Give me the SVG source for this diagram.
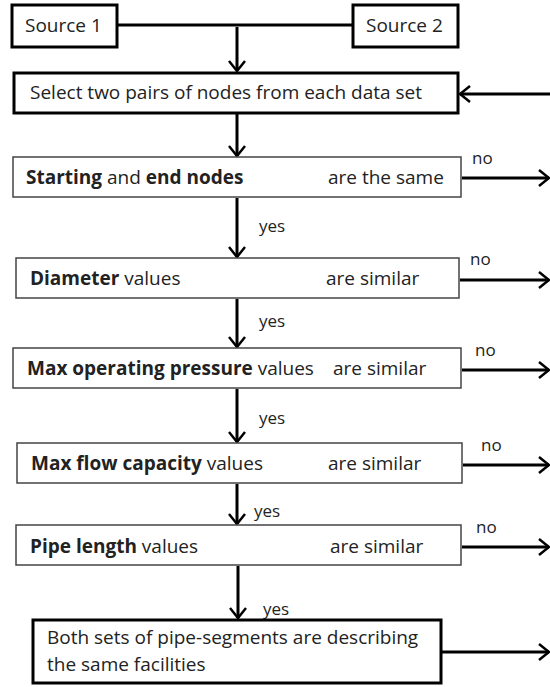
<svg xmlns="http://www.w3.org/2000/svg" width="550" height="687" viewBox="0 0 550 687">
<style>
text{font-family:"Open Sans","Noto Sans","Liberation Sans",sans-serif;font-size:19px;fill:#222}
.b{font-weight:bold}
.thick{fill:#fff;stroke:#000;stroke-width:3}
.thin{fill:#fff;stroke:#444;stroke-width:1.5}
.c{stroke:#000;stroke-width:3;fill:none}
.lbl{font-size:17px}
</style>
<defs>
<marker id="ah" viewBox="0 0 12 18" refX="11" refY="9" markerWidth="12" markerHeight="18" markerUnits="userSpaceOnUse" orient="auto">
<path d="M1,1 L11,9 L1,17" fill="none" stroke="#000" stroke-width="2.5"/>
</marker>
</defs>
<g id="connectors">
<line class="c" x1="117" y1="25" x2="353" y2="25"/>
<line class="c" x1="237" y1="27" x2="237" y2="71" marker-end="url(#ah)"/>
<line class="c" x1="550" y1="94" x2="460" y2="94" marker-end="url(#ah)"/>
<line class="c" x1="237" y1="114" x2="237" y2="156" marker-end="url(#ah)"/>
<line class="c" x1="462" y1="178" x2="549" y2="178" marker-end="url(#ah)"/>
<line class="c" x1="237" y1="198" x2="237" y2="257" marker-end="url(#ah)"/>
<line class="c" x1="460" y1="280" x2="549" y2="280" marker-end="url(#ah)"/>
<line class="c" x1="237" y1="299" x2="237" y2="347" marker-end="url(#ah)"/>
<line class="c" x1="462" y1="370" x2="549" y2="370" marker-end="url(#ah)"/>
<line class="c" x1="237" y1="389" x2="237" y2="442" marker-end="url(#ah)"/>
<line class="c" x1="463" y1="465" x2="549" y2="465" marker-end="url(#ah)"/>
<line class="c" x1="237" y1="484" x2="237" y2="524" marker-end="url(#ah)"/>
<line class="c" x1="462" y1="547" x2="549" y2="547" marker-end="url(#ah)"/>
<line class="c" x1="238" y1="566" x2="238" y2="618" marker-end="url(#ah)"/>
<line class="c" x1="442" y1="652" x2="549" y2="652" marker-end="url(#ah)"/>
<text class="lbl" x="472" y="164">no</text>
<text class="lbl" x="470" y="265">no</text>
<text class="lbl" x="475" y="356">no</text>
<text class="lbl" x="481" y="451">no</text>
<text class="lbl" x="476" y="533">no</text>
<text class="lbl" x="259" y="232">yes</text>
<text class="lbl" x="259" y="327">yes</text>
<text class="lbl" x="259" y="424">yes</text>
<text class="lbl" x="254" y="517">yes</text>
<text class="lbl" x="263" y="615">yes</text>
</g>
<g id="source1"><rect class="thick" x="12" y="5" width="105" height="42"/><text x="25" y="32">Source 1</text></g>
<g id="source2"><rect class="thick" x="353" y="5" width="105" height="42"/><text x="366" y="32">Source 2</text></g>
<g id="select"><rect class="thick" x="14" y="73" width="444" height="40"/><text x="30" y="99">Select two pairs of nodes from each data set</text></g>
<g id="nodes"><rect class="thin" x="13" y="157" width="448" height="40"/><text x="26" y="184"><tspan class="b">Starting</tspan> and <tspan class="b">end nodes</tspan></text><text x="328" y="184">are the same</text></g>
<g id="diameter"><rect class="thin" x="16" y="258" width="443" height="40"/><text x="30" y="285"><tspan class="b">Diameter</tspan> values</text><text x="326" y="285">are similar</text></g>
<g id="pressure"><rect class="thin" x="13" y="348" width="448" height="40"/><text x="27" y="375"><tspan class="b">Max operating pressure</tspan> values</text><text x="333" y="375">are similar</text></g>
<g id="flow"><rect class="thin" x="17" y="443" width="445" height="40"/><text x="31" y="470"><tspan class="b">Max flow capacity</tspan> values</text><text x="328" y="470">are similar</text></g>
<g id="length"><rect class="thin" x="16" y="525" width="445" height="40"/><text x="30" y="553"><tspan class="b">Pipe length</tspan> values</text><text x="330" y="553">are similar</text></g>
<g id="result"><rect class="thick" x="33" y="620" width="408" height="63"/><text x="47" y="644">Both sets of pipe-segments are describing</text><text x="47" y="671">the same facilities</text></g>
</svg>
